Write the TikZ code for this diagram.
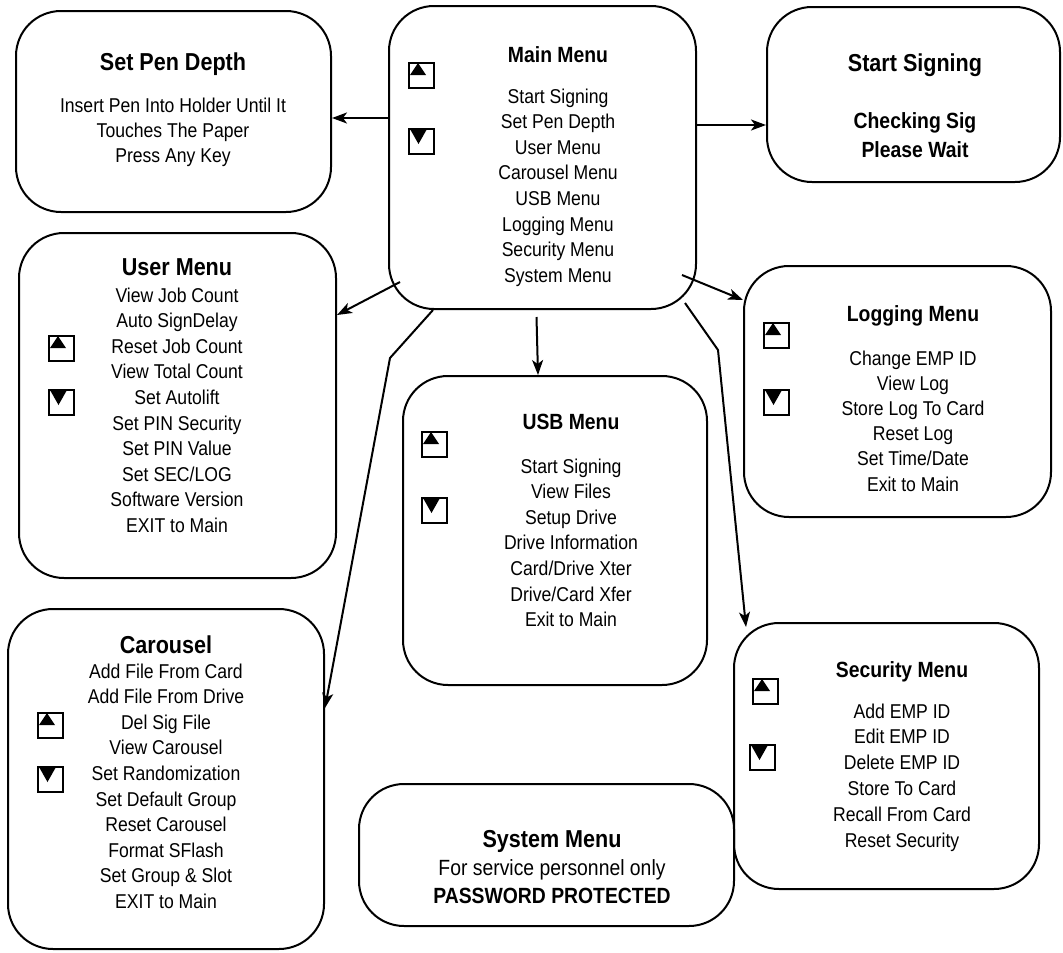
\documentclass[tikz,border=0pt]{standalone}
\usepackage{fontspec}
\setmainfont{Liberation Sans}[FakeStretch=0.88]
\usetikzlibrary{arrows.meta}

% scroll keys drawn inside the menus
\newcommand{\keyup}[2]{%
  \node[keybox] (#1) at (#2) {};
  \fill ([shift={(-3.5,-12.5)}]#1.center) -- ([shift={(-11.5,-0.5)}]#1.center)
    -- ([shift={(4.5,-0.5)}]#1.center) -- cycle;}
\newcommand{\keydown}[2]{%
  \node[keybox] (#1) at (#2) {};
  \fill ([shift={(-11.5,-12.5)}]#1.center) -- ([shift={(5.5,-12.5)}]#1.center)
    -- ([shift={(-3,2.5)}]#1.center) -- cycle;}

\begin{document}
\begin{tikzpicture}[x=1pt, y=-1pt,
  menubox/.style={draw, line width=2pt, rounded corners=45pt, inner sep=0pt},
  keybox/.style={draw, line width=2pt, minimum size=25pt, inner sep=0pt},
  menutitle/.style={anchor=base, inner sep=0pt, font=\bfseries\fontsize{22}{26}\selectfont},
  bigtitle/.style={menutitle, font=\bfseries\fontsize{24.5}{28}\selectfont},
  menuitems/.style={anchor=base, inner sep=0pt, align=center, font=\fontsize{20}{25.6}\selectfont},
  arrowline/.style={line width=2pt, -{Stealth[length=15pt, width=11pt, inset=4pt]}}
]
\useasboundingbox (0,0) rectangle (1063,953);

% item lists sit on the baseline of their last line
\node[menubox, minimum width=315pt, minimum height=201pt] (pen) at (173.5,111.5) {};
\node[bigtitle] (pen-title) at (173,70) {Set Pen Depth};
\node[menuitems, font=\fontsize{20}{25}\selectfont] (pen-items) at (173,162)
  {Insert Pen Into Holder Until It\\Touches The Paper\\Press Any Key};

\node[menubox, minimum width=307pt, minimum height=303pt] (main) at (542.5,157.5) {};
\node[menutitle] (main-title) at (558,62) {Main Menu};
\node[menuitems] (main-items) at (558,282.2)
  {Start Signing\\Set Pen Depth\\User Menu\\Carousel Menu\\USB Menu\\Logging Menu\\Security Menu\\System Menu};
\keyup{main-up}{421.5,75.5}
\keydown{main-down}{421.5,141.5}

\node[menubox, minimum width=293pt, minimum height=175pt] (start) at (913.5,94.5) {};
\node[bigtitle] (start-title) at (915,71) {Start Signing};
\node[menuitems, font=\bfseries\fontsize{22}{29}\selectfont] (start-items) at (915,157)
  {Checking Sig\\Please Wait};

\node[menubox, minimum width=317pt, minimum height=345pt] (user) at (177.5,405.5) {};
\node[bigtitle] (user-title) at (177,275) {User Menu};
\node[menuitems] (user-items) at (177,532.4)
  {View Job Count\\Auto SignDelay\\Reset Job Count\\View Total Count\\Set Autolift\\Set PIN Security\\Set PIN Value\\Set SEC/LOG\\Software Version\\EXIT to Main};
\keyup{user-up}{61.5,348.5}
\keydown{user-down}{61.5,402.5}

\node[menubox, minimum width=316pt, minimum height=340pt] (car) at (166,779) {};
\node[bigtitle] (car-title) at (166,653) {Carousel};
\node[menuitems] (car-items) at (166,908.4)
  {Add File From Card\\Add File From Drive\\Del Sig File\\View Carousel\\Set Randomization\\Set Default Group\\Reset Carousel\\Format SFlash\\Set Group \& Slot\\EXIT to Main};
\keyup{car-up}{50.5,725.5}
\keydown{car-down}{50.5,779.5}

\node[menubox, minimum width=304pt, minimum height=309pt] (usb) at (555,530.5) {};
\node[menutitle] (usb-title) at (571,429) {USB Menu};
\node[menuitems] (usb-items) at (571,626.6)
  {Start Signing\\View Files\\Setup Drive\\Drive Information\\Card/Drive Xter\\Drive/Card Xfer\\Exit to Main};
\keyup{usb-up}{434.5,444.5}
\keydown{usb-down}{434.5,510.5}

\node[menubox, minimum width=307pt, minimum height=251pt] (log) at (897.5,391.5) {};
\node[menutitle] (log-title) at (913,321) {Logging Menu};
\node[menuitems, font=\fontsize{20}{25.2}\selectfont] (log-items) at (913,491)
  {Change EMP ID\\View Log\\Store Log To Card\\Reset Log\\Set Time/Date\\Exit to Main};
\keyup{log-up}{776.5,335.5}
\keydown{log-down}{776.5,402.5}

\node[menubox, minimum width=305pt, minimum height=266pt] (sec) at (886.5,756) {};
\node[menutitle] (sec-title) at (902,677) {Security Menu};
\node[menuitems, font=\fontsize{20}{25.8}\selectfont] (sec-items) at (902,847)
  {Add EMP ID\\Edit EMP ID\\Delete EMP ID\\Store To Card\\Recall From Card\\Reset Security};
\keyup{sec-up}{765.5,691.5}
\keydown{sec-down}{762.5,757.5}

\node[menubox, minimum width=375pt, minimum height=142pt] (sys) at (546.5,855) {};
\node[bigtitle] (sys-title) at (552,847) {System Menu};
\node[menuitems, font=\fontsize{22}{28}\selectfont] (sys-items) at (552,903)
  {For service personnel only\\\textbf{PASSWORD PROTECTED}};

\draw[arrowline] (main.west |- 0,118) -- (pen.east |- 0,118);
\draw[arrowline] (main.east |- 0,125) -- (start.west |- 0,125);
\draw[arrowline] ([shift={(12,-28)}]main.south west) -- ([shift={(0,83)}]user.north east);
\draw[arrowline] ([shift={(-6,7)}]main.south) -- ([shift={(-17,0)}]usb.north);
\draw[arrowline] ([shift={(-15,-35)}]main.south east) -- ([shift={(0,35)}]log.north west);
\draw[arrowline] ([shift={(45,0)}]main.south west) -- ++(-43,48) -- ([shift={(0,100)}]car.north east);
\draw[arrowline] ([shift={(-12,-7)}]main.south east) -- ++(33,47) -- ([shift={(13,5)}]sec.north west);

\end{tikzpicture}
\end{document}
